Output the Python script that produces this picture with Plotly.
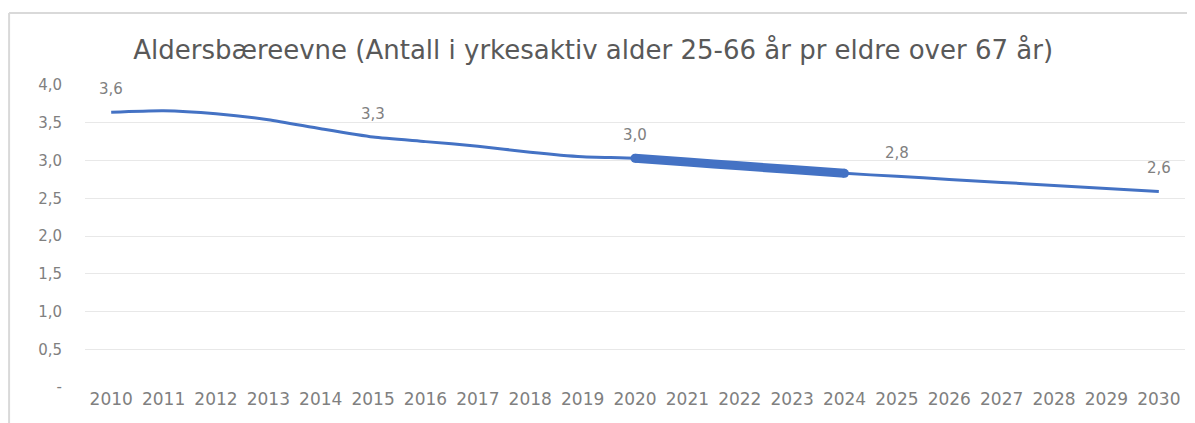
import plotly.graph_objects as go

years = list(range(2010, 2031))
values = [3.64, 3.66, 3.62, 3.54, 3.42, 3.31, 3.25, 3.19, 3.11, 3.05, 3.03,
          2.98, 2.93, 2.88, 2.83, 2.79, 2.75, 2.71, 2.67, 2.63, 2.59]
highlight_years = [2020, 2021, 2022, 2023, 2024]
label_years = [2010, 2015, 2020, 2025, 2030]
label_texts = ["3,6", "3,3", "3,0", "2,8", "2,6"]
ytick_vals = [0, 0.5, 1.0, 1.5, 2.0, 2.5, 3.0, 3.5, 4.0]
ytick_text = ["-", "0,5", "1,0", "1,5", "2,0", "2,5", "3,0", "3,5", "4,0"]
title = "Aldersbæreevne (Antall i yrkesaktiv alder 25-66 år pr eldre over 67 år)"

blue = "#4472C4"
grey = "#595959"
tick_grey = "#808080"
font = "DejaVu Sans, Verdana, sans-serif"

fig = go.Figure()
fig.add_trace(go.Scatter(x=years, y=values, mode="lines",
                         line=dict(color=blue, width=3, shape="spline", smoothing=0.6),
                         hoverinfo="skip", showlegend=False))
hv = [values[years.index(y)] for y in highlight_years]
fig.add_trace(go.Scatter(x=highlight_years, y=hv, mode="lines",
                         line=dict(color=blue, width=9, shape="spline", smoothing=0.6),
                         hoverinfo="skip", showlegend=False))
ends = [highlight_years[0], highlight_years[-1]]
fig.add_trace(go.Scatter(x=ends, y=[values[years.index(y)] for y in ends], mode="markers",
                         marker=dict(color=blue, size=9, line=dict(width=0)),
                         hoverinfo="skip", showlegend=False))
for yr, txt in zip(label_years, label_texts):
    fig.add_annotation(x=yr, y=values[years.index(yr)], text=txt, showarrow=False,
                       yshift=23, xanchor="center", yanchor="middle",
                       font=dict(family=font, size=15, color=tick_grey))

# figure is placed 8px in from the page corner, so size is reduced accordingly
fig.update_layout(
    width=1187, height=415,
    margin=dict(l=77, r=10, t=77, b=36),
    paper_bgcolor="white", plot_bgcolor="white",
    title=dict(text=title, x=0.493, xanchor="center", y=0.9, yanchor="middle",
               font=dict(family=font, size=26, color=grey)),
    xaxis=dict(range=[2009.5, 2030.5], tickvals=years, ticktext=[str(y) for y in years],
               showgrid=False, zeroline=False, showline=False, ticks="",
               tickfont=dict(family=font, size=17, color=tick_grey)),
    yaxis=dict(range=[0, 4.0], tickvals=ytick_vals, ticktext=ytick_text,
               showgrid=True, gridcolor="#E8E8E8", gridwidth=1, zeroline=False,
               showline=False, ticks="", ticklabelstandoff=22,
               tickfont=dict(family=font, size=15, color=tick_grey)),
    shapes=[
        dict(type="line", xref="paper", yref="paper", x0=-0.069, x1=1.01, y0=1.238, y1=1.238,
             line=dict(color="#D9D9D9", width=2)),
        dict(type="line", xref="paper", yref="paper", x0=-0.069, x1=-0.069, y0=1.238, y1=-0.2,
             line=dict(color="#D9D9D9", width=2)),
    ],
)

fig.write_html("out.html")
